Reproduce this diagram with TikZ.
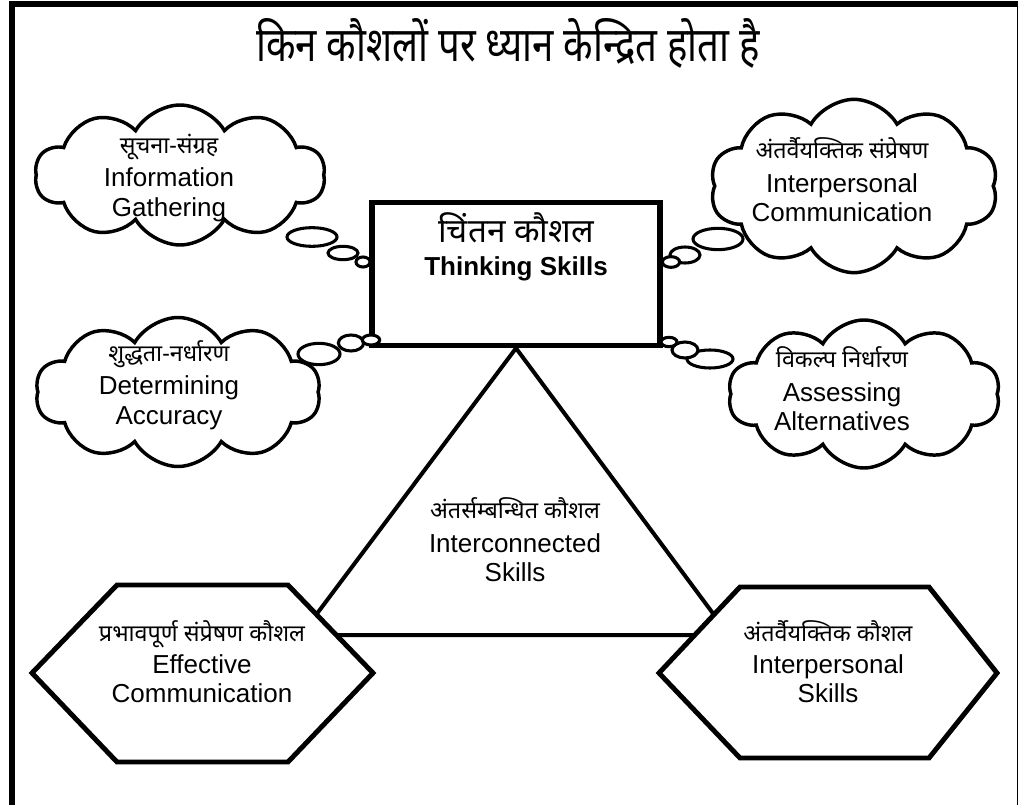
\documentclass[tikz,border=0pt]{standalone}
\usepackage{fontspec}
\setmainfont{Liberation Sans}
\newfontfamily\hindi[Script=Devanagari]{Noto Sans}
\usetikzlibrary{shapes.symbols,shapes.geometric}
\tikzset{
  thought/.style={cloud, cloud puffs=10, cloud puff arc=120, cloud ignores aspect, draw, line width=2.6pt, fill=white, align=center, inner sep=0pt},
  bubble/.style={ellipse, draw, line width=2.3pt, fill=white, inner sep=0pt},
  lbl/.style={align=center, font=\fontsize{19.5}{22}\selectfont, inner sep=0pt},
  hexa/.style={draw, line width=3.7pt, fill=white, line join=miter},
}
\newcommand{\hd}[1]{{\hindi\fontsize{17.5}{19}\selectfont #1}}
\begin{document}
\begin{tikzpicture}[x=0.75pt,y=-0.75pt]
\useasboundingbox (0,0) rectangle (1018,805);
\clip (0,0) rectangle (1018,805);
% outer frame
\draw[line width=4.5pt] (12,4.5) rectangle (1019.5,830);
% title
\node[inner sep=0pt] (title) at (508,43) {\scalebox{0.8}[1]{\hindi\fontsize{36}{40}\selectfont किन कौशलों पर ध्यान केन्द्रित होता है}};
% central box
\node[draw, line width=4pt, minimum width=216pt, minimum height=107.25pt, fill=white] (box) at (516,274) {};
\node[lbl, font=\fontsize{19.5}{22}\selectfont\bfseries] (boxtext) at (516,247) {{\hindi\fontsize{25}{26}\selectfont\mdseries चिंतन कौशल}\\[3pt] Thinking Skills};
% triangle
\coordinate (tl) at (301,635);
\coordinate (tr) at (729,635);
\draw[line width=3pt, line join=miter] (box.south) -- (tl) -- (tr) -- cycle;
\node[lbl] (tritext) at (515,540) {\hd{अंतर्सम्बन्धित कौशल}\\[3pt] Interconnected\\ Skills};
% hexagons
\draw[hexa] (32,673) -- (117,585) -- (288,585) -- (373,673) -- (288,762) -- (117,762) -- cycle;
\node[lbl] (hexL) at (202,662) {\hd{प्रभावपूर्ण संप्रेषण कौशल}\\[2pt] Effective\\ Communication};
\draw[hexa] (659,673) -- (740,587) -- (929,587) -- (997,673) -- (929,758) -- (740,758) -- cycle;
\node[lbl] (hexR) at (828,662) {\hd{अंतर्वैयक्तिक कौशल}\\[2pt] Interpersonal\\ Skills};
% clouds
\node[thought, minimum width=217.5pt, minimum height=105pt] (c1) at (180,175) {};
\node[lbl] (t1) at (169,178) {\hd{सूचना-संग्रह}\\[3pt] Information\\ Gathering};
\node[bubble, minimum width=37.5pt, minimum height=14pt] (b11) at (312,237) {};
\node[bubble, minimum width=22.5pt, minimum height=10pt] (b12) at (343,253) {};
\node[bubble, minimum width=10.5pt, minimum height=7.5pt] (b13) at (363,262) {};

\node[thought, minimum width=216pt, minimum height=130pt] (c2) at (854,186) {};
\node[lbl] (t2) at (842,180) {\hd{अंतर्वैयक्तिक संप्रेषण}\\[3pt] Interpersonal\\ Communication};
\node[bubble, minimum width=37.5pt, minimum height=16pt] (b21) at (718,239) {};
\node[bubble, minimum width=22.5pt, minimum height=12pt] (b22) at (685,255) {};
\node[bubble, minimum width=13pt, minimum height=8pt] (b23) at (671,262) {};

\node[thought, minimum width=213.75pt, minimum height=111.75pt] (c3) at (178,392) {};
\node[lbl] (t3) at (169,385) {\hd{शुद्धता-नर्धारण}\\[3pt] Determining\\ Accuracy};
\node[bubble, minimum width=31.5pt, minimum height=16pt] (b31) at (319,354) {};
\node[bubble, minimum width=19pt, minimum height=12pt] (b32) at (351,343) {};
\node[bubble, minimum width=13pt, minimum height=7.5pt] (b33) at (371,340) {};

\node[thought, minimum width=204pt, minimum height=111pt] (c4) at (864,394) {};
\node[lbl] (t4) at (842,389) {\hd{विकल्प निर्धारण}\\[3pt] Assessing\\ Alternatives};
\node[bubble, minimum width=34.5pt, minimum height=13.5pt] (b41) at (710,359) {};
\node[bubble, minimum width=19.5pt, minimum height=12pt] (b42) at (685,350) {};
\node[bubble, minimum width=12pt, minimum height=7pt] (b43) at (669,342) {};
\end{tikzpicture}
\end{document}
